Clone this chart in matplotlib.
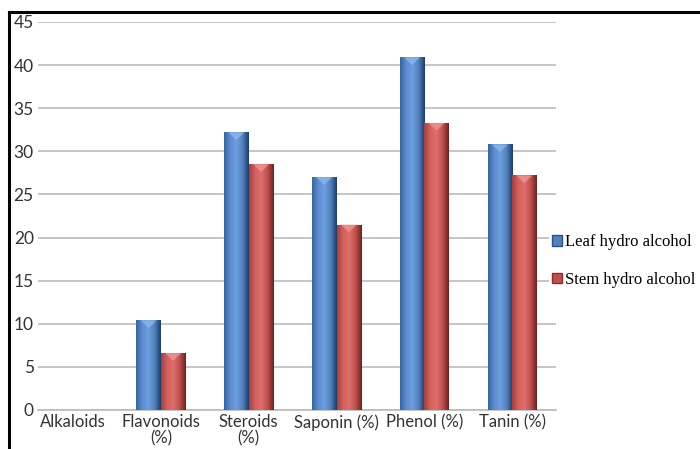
import numpy as np
import matplotlib
matplotlib.use("Agg")
import matplotlib.pyplot as plt
from matplotlib.colors import LinearSegmentedColormap
from matplotlib.patches import Patch, Polygon
from matplotlib.lines import Line2D

categories = ["Alkaloids", "Flavonoids\n(%)", "Steroids\n(%)", "Saponin (%)", "Phenol (%)", "Tanin (%)"]
leaf = [0, 10.4, 32.2, 27.0, 40.9, 30.8]
stem = [0, 6.6, 28.5, 21.5, 33.3, 27.2]
series_names = ["Leaf hydro alcohol", "Stem hydro alcohol"]
yticks = [0, 5, 10, 15, 20, 25, 30, 35, 40, 45]

W, H = 700, 449
fig = plt.figure(figsize=(7, 4.49), dpi=100)
ax = fig.add_axes([38 / W, 1 - 410 / H, (556 - 38) / W, (410 - 22) / H])

blue_map = LinearSegmentedColormap.from_list("b", ["#3a64a3", "#5b8dd0", "#6f9ede", "#4f81bd", "#1f3d6b"])
red_map = LinearSegmentedColormap.from_list("r", ["#a53f3c", "#d4625f", "#de6f6c", "#c0504d", "#6e2220"])
grad = np.linspace(0, 1, 64).reshape(1, -1)

x = np.arange(len(categories))
bw = 0.28
for vals, cmap, cap, off in [(leaf, blue_map, "#8fb6ea", -bw / 2), (stem, red_map, "#ee9492", bw / 2)]:
    bars = ax.bar(x + off, vals, bw, color="none", edgecolor="none", zorder=3)
    for b in bars:
        h = b.get_height()
        if h <= 0:
            continue
        x0 = b.get_x()
        x1 = x0 + b.get_width()
        im = ax.imshow(grad, extent=[x0, x1, 0, h], aspect="auto", cmap=cmap, zorder=3)
        im.set_clip_path(b)
        xc = (x0 + x1) / 2
        ax.add_patch(Polygon([(x0 + 0.05, h), (x1 - 0.05, h), (xc, h - 0.9)],
                             closed=True, color=cap, alpha=0.8, zorder=4, lw=0))

ax.set_xlim(-0.4, 5.5)
ax.set_ylim(0, 45)
ax.set_yticks(yticks)
ax.set_xticks(x)
ax.set_xticklabels(categories, fontfamily="Lato", fontsize=12, color="#333333", linespacing=1.0)
ax.set_yticklabels([str(t) for t in yticks], fontfamily="Lato", fontsize=12.5, color="#333333")
ax.tick_params(length=0)
ax.tick_params(axis="y", pad=3)
ax.tick_params(axis="x", pad=3)
ax.grid(axis="y", color="#bbbbbb", lw=1.2, zorder=0)
ax.set_axisbelow(True)
for s in ["top", "right", "left"]:
    ax.spines[s].set_visible(False)
ax.spines["bottom"].set_color("#bbbbbb")
ax.spines["bottom"].set_linewidth(1.2)

handles = [Patch(facecolor="#4f81bd", edgecolor="#2c4f86"), Patch(facecolor="#c0504d", edgecolor="#8a2e2b")]
fig.legend(handles, series_names, loc="center left", bbox_to_anchor=(549 / W, 1 - 261 / H),
           prop={"family": "Liberation Serif", "size": 12}, frameon=True, facecolor="white",
           edgecolor="none", framealpha=1, borderpad=0.2, handlelength=0.6, handleheight=0.6,
           handletextpad=0.15, labelspacing=1.3, borderaxespad=0)

fig.add_artist(Line2D([9 / W, 9 / W], [0, 1 - 12 / H], color="black", lw=2.2))
fig.add_artist(Line2D([9 / W, 1], [1 - 12 / H, 1 - 12 / H], color="black", lw=2.2))

fig.savefig("out.png", dpi=100)
